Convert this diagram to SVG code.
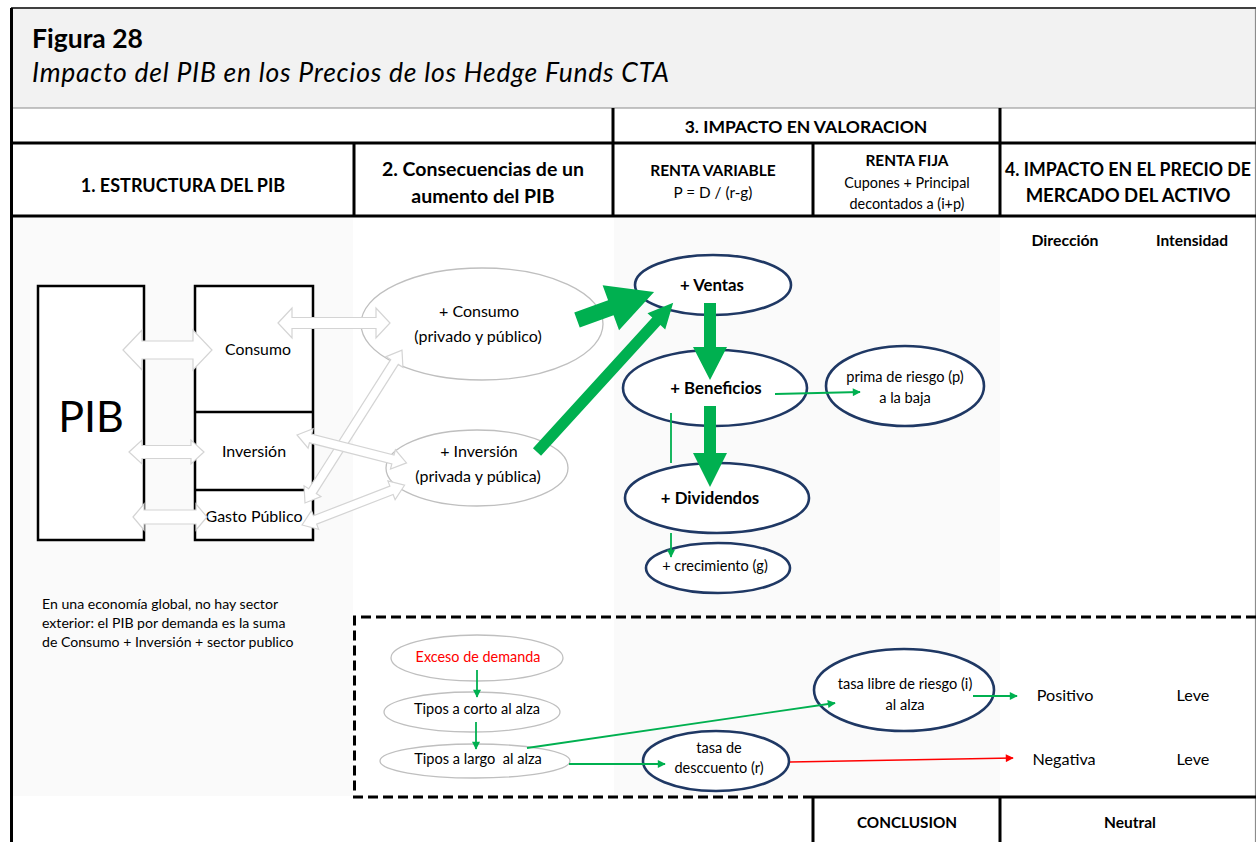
<svg xmlns="http://www.w3.org/2000/svg" width="1256" height="842" viewBox="0 0 1256 842">
  <defs>
    <style>
      .t { font-family: Lato, "Liberation Sans", sans-serif; fill: #000; }
      .b { font-weight: bold; }
      .c { text-anchor: middle; }
      .grid { stroke: #000; stroke-width: 3; fill: none; }
      .thin { stroke: #8c8c8c; stroke-width: 1.2; fill: none; }
      .box { fill: #fff; stroke: #000; stroke-width: 2.5; }
      .soft { fill: #fff; stroke: #bfbfbf; stroke-width: 1.3; }
      .navy { fill: #fff; stroke: #1f3864; stroke-width: 2.6; }
      .ghost { fill: #fff; stroke: #d4d4d4; stroke-width: 1.2; }
      .fat { fill: #00b050; }
      .ln { stroke: #00b050; stroke-width: 1.8; fill: none; }
      .lnred { stroke: #ff0000; stroke-width: 1.5; fill: none; }
    </style>
    <marker id="ah-green" viewBox="0 0 10 10" refX="9" refY="5" markerWidth="10" markerHeight="8" markerUnits="userSpaceOnUse" orient="auto">
      <path d="M0,0 L10,5 L0,10 z" fill="#00b050"/>
    </marker>
    <marker id="ah-red" viewBox="0 0 10 10" refX="9" refY="5" markerWidth="10" markerHeight="8" markerUnits="userSpaceOnUse" orient="auto">
      <path d="M0,0 L10,5 L0,10 z" fill="#ff0000"/>
    </marker>
  </defs>

  <!-- page background and shaded areas -->
  <rect x="0" y="0" width="1256" height="842" fill="#fff"/>
  <rect x="11" y="8" width="1245" height="100" fill="#f2f2f2"/>
  <rect x="12" y="218" width="341" height="578" fill="#fafafa"/>
  <rect x="614" y="218" width="386" height="578" fill="#fafafa"/>

  <!-- title -->
  <g id="title">
    <text class="t b" x="32" y="48" font-size="26.5">Figura 28</text>
    <text class="t" x="32" y="82" font-size="26.5" font-style="italic" textLength="637" lengthAdjust="spacing">Impacto del PIB en los Precios de los Hedge Funds CTA</text>
  </g>

  <!-- table frame -->
  <g id="table">
    <path class="thin" d="M11 8 H1256 M1255.5 8 V842 M11 108 H1256"/>
    <path d="M11 8 H1256" stroke="#404040" stroke-width="2"/>
    <path class="grid" d="M11.5 8 V842"/>
    <path class="grid" d="M11 143 H1256 M11 216 H1256"/>
    <path class="grid" d="M613 108 V216 M1000 108 V216 M354 143 V216 M813 143 V216"/>
    <path class="grid" d="M813 797 H1256 M813 797 V842 M1000 797 V842"/>
    <path d="M1256 617 H354.5 V797 H813" fill="none" stroke="#000" stroke-width="3" stroke-dasharray="10 5"/>
  </g>

  <!-- header labels -->
  <g id="headers">
    <text class="t b c" x="806" y="133" font-size="17.5">3. IMPACTO EN VALORACION</text>
    <text class="t b c" x="183" y="192" font-size="18">1. ESTRUCTURA DEL PIB</text>
    <text class="t b c" x="483" y="176" font-size="19.5">2. Consecuencias de un</text>
    <text class="t b c" x="483" y="203" font-size="19.5">aumento del PIB</text>
    <text class="t b c" x="713" y="176" font-size="15.5">RENTA VARIABLE</text>
    <text class="t c" x="713" y="198" font-size="15.3">P = D / (r-g)</text>
    <text class="t b c" x="907" y="166" font-size="15.4">RENTA FIJA</text>
    <text class="t c" x="907" y="188" font-size="14.4">Cupones + Principal</text>
    <text class="t c" x="907" y="209" font-size="14.4">decontados a (i+p)</text>
    <text class="t b c" x="1128" y="176" font-size="18" textLength="246" lengthAdjust="spacingAndGlyphs">4. IMPACTO EN EL PRECIO DE</text>
    <text class="t b c" x="1128" y="202" font-size="18.5">MERCADO DEL ACTIVO</text>
    <text class="t b c" x="1065" y="246" font-size="15.8">Dirección</text>
    <text class="t b c" x="1192" y="246" font-size="15.5">Intensidad</text>
  </g>

  <!-- GDP structure -->
  <g id="pib">
    <rect class="box" x="38" y="286" width="106" height="254"/>
    <text class="t c" x="91" y="432" font-size="43">PIB</text>
  </g>
  <g id="componentes">
    <rect class="box" x="195" y="286" width="118" height="254"/>
    <path d="M195 412 H313 M195 490 H313" stroke="#000" stroke-width="2.5"/>
  </g>
  <g id="consumo"><text class="t c" x="258" y="355" font-size="15.8">Consumo</text></g>
  <g id="inversion"><text class="t c" x="254" y="457" font-size="16">Inversión</text></g>
  <g id="gasto"><text class="t c" x="254" y="522" font-size="16">Gasto Público</text></g>

  <g id="nota">
    <text class="t" x="42" y="609" font-size="14.1">En una economía global, no hay sector</text>
    <text class="t" x="42" y="628" font-size="14.1">exterior: el PIB por demanda es la suma</text>
    <text class="t" x="42" y="647" font-size="14.1">de Consumo + Inversión + sector publico</text>
  </g>

  <!-- consequences -->
  <g id="mas-consumo">
    <ellipse class="soft" cx="482" cy="324" rx="121" ry="56"/>
    <text class="t c" x="479" y="317" font-size="16">+ Consumo</text>
    <text class="t c" x="478" y="342" font-size="16">(privado y público)</text>
  </g>
  <g id="mas-inversion">
    <ellipse class="soft" cx="477" cy="468" rx="91" ry="38"/>
    <text class="t c" x="479" y="457" font-size="16">+ Inversión</text>
    <text class="t c" x="478" y="482" font-size="16">(privada y pública)</text>
  </g>

  <!-- valuation chain -->
  <g id="ventas">
    <ellipse class="navy" cx="713" cy="285" rx="78" ry="30"/>
    <text class="t b c" x="712" y="291" font-size="16.8">+ Ventas</text>
  </g>
  <g id="beneficios">
    <ellipse class="navy" cx="715" cy="388" rx="92" ry="38"/>
    <text class="t b c" x="716" y="394" font-size="16.8">+ Beneficios</text>
  </g>
  <g id="dividendos">
    <ellipse class="navy" cx="717" cy="498" rx="92" ry="35"/>
    <text class="t b c" x="710" y="504" font-size="16.8">+ Dividendos</text>
  </g>
  <g id="crecimiento">
    <ellipse class="navy" cx="718" cy="568" rx="72" ry="25"/>
    <text class="t c" x="715" y="571" font-size="14.5">+ crecimiento (g)</text>
  </g>
  <g id="prima">
    <ellipse class="navy" cx="905" cy="386" rx="79" ry="40"/>
    <text class="t c" x="905" y="382" font-size="14.6">prima de riesgo (p)</text>
    <text class="t c" x="905" y="403" font-size="14.6">a la baja</text>
  </g>

  <!-- interest rate chain -->
  <g id="exceso">
    <ellipse class="soft" cx="477" cy="658" rx="86" ry="23"/>
    <text class="t c" x="478" y="662" font-size="14.4" style="fill:#ff0000">Exceso de demanda</text>
  </g>
  <g id="tipos-corto">
    <ellipse class="soft" cx="472" cy="712" rx="88" ry="20"/>
    <text class="t c" x="477" y="714" font-size="14.6">Tipos a corto al alza</text>
  </g>
  <g id="tipos-largo">
    <ellipse class="soft" cx="475" cy="761" rx="95" ry="17"/>
    <text class="t c" x="478" y="764" font-size="14.6" xml:space="preserve">Tipos a largo  al alza</text>
  </g>
  <g id="tasa-descuento">
    <ellipse class="navy" cx="716" cy="761" rx="73" ry="30"/>
    <text class="t c" x="719" y="753" font-size="14.5">tasa de</text>
    <text class="t c" x="719" y="773" font-size="14.5">desccuento (r)</text>
  </g>
  <g id="tasa-libre">
    <ellipse class="navy" cx="904" cy="690" rx="90" ry="41"/>
    <text class="t c" x="905" y="689" font-size="14.6">tasa libre de riesgo (i)</text>
    <text class="t c" x="905" y="710" font-size="14.6">al alza</text>
  </g>

  <!-- impact columns -->
  <g id="impacto-positivo">
    <text class="t c" x="1065" y="701" font-size="16.2">Positivo</text>
    <text class="t c" x="1193" y="701" font-size="16.2">Leve</text>
  </g>
  <g id="impacto-negativo">
    <text class="t c" x="1064" y="765" font-size="16.2">Negativa</text>
    <text class="t c" x="1193" y="765" font-size="16.2">Leve</text>
  </g>
  <g id="conclusion">
    <text class="t b c" x="907" y="828" font-size="15.3">CONCLUSION</text>
    <text class="t b c" x="1130" y="828" font-size="15.5">Neutral</text>
  </g>

  <!-- connectors -->
  <g id="connectors">
    <!-- hollow two-way block arrows -->
    <polygon class="ghost" transform="translate(123,350)" points="0,0 19,-20 19,-9 70,-9 70,-20 89,0 70,20 70,9 19,9 19,20"/>
    <polygon class="ghost" transform="translate(129,452)" points="0,0 13,-12 13,-6.5 62,-6.5 62,-12 75,0 62,12 62,6.5 13,6.5 13,12"/>
    <polygon class="ghost" transform="translate(133,517)" points="0,0 11,-13 11,-7 63,-7 63,-13 74,0 63,13 63,7 11,7 11,13"/>
    <polygon class="ghost" transform="translate(278,323)" points="0,0 14,-15 14,-5.5 98,-5.5 98,-15 112,0 98,15 98,5.5 14,5.5 14,15"/>
    <polygon class="ghost" transform="translate(305,503) rotate(-57.6)" points="0,0 14,-10 14,-4.5 167,-4.5 167,-10 181,0 167,10 167,4.5 14,4.5 14,10"/>
    <polygon class="ghost" transform="translate(297,435) rotate(14.3)" points="0,0 14,-10 14,-4.5 99,-4.5 99,-10 113,0 99,10 99,4.5 14,4.5 14,10"/>
    <polygon class="ghost" transform="translate(302,525) rotate(-21.2)" points="0,0 14,-10 14,-4.5 96,-4.5 96,-10 110,0 96,10 96,4.5 14,4.5 14,10"/>

    <!-- solid green block arrows -->
    <polygon class="fat" transform="translate(577,320) rotate(-20)" points="0,-8 36,-8 36,-24 82,0 36,24 36,8 0,8"/>
    <polygon class="fat" transform="translate(537,452) rotate(-47.6)" points="0,-5.5 177,-5.5 177,-12 202,0 177,12 177,5.5 0,5.5"/>
    <polygon class="fat" points="704,303 716,303 716,347 727,347 710,380 693,347 704,347"/>
    <polygon class="fat" points="704,406 716,406 716,453 727,453 710,487 693,453 704,453"/>

    <!-- thin arrows -->
    <path class="ln" d="M775 394 L860 392" marker-end="url(#ah-green)"/>
    <path class="ln" d="M671 413 V463 M671 533 V557" marker-end="url(#ah-green)"/>
    <path class="ln" d="M477 670 V697" marker-end="url(#ah-green)"/>
    <path class="ln" d="M476 722 V749" marker-end="url(#ah-green)"/>
    <path class="ln" d="M569 764 H665" stroke-width="2.6" marker-end="url(#ah-green)"/>
    <path class="ln" d="M527 748 L835 703" stroke-width="1.4" marker-end="url(#ah-green)"/>
    <path class="ln" d="M973 696 H1017" marker-end="url(#ah-green)"/>
    <path class="lnred" d="M790 762 L1013 758" marker-end="url(#ah-red)"/>
  </g>
</svg>
